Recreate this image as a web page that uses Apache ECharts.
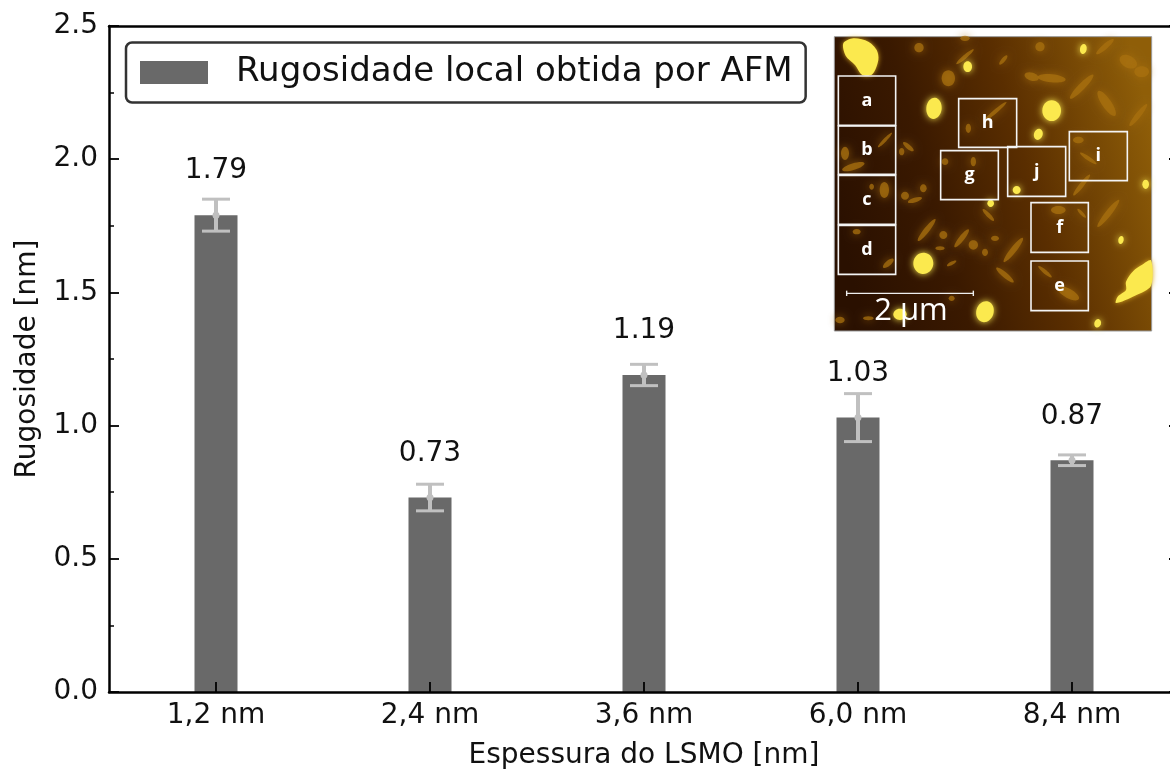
<!DOCTYPE html>
<html><head><meta charset="utf-8">
<style>html,body{margin:0;padding:0;background:#fff;overflow:hidden}#c{width:1170px;height:769px}</style>
<script src="https://cdn.jsdelivr.net/npm/echarts@6/dist/echarts.min.js"></script>
</head><body><div id="c"></div>
<script>
const categories = ['1,2 nm','2,4 nm','3,6 nm','6,0 nm','8,4 nm'];
const values = [1.79,0.73,1.19,1.03,0.87];
const errors = [0.06,0.05,0.04,0.09,0.02];
const yTicksMax = 2.5;
const seriesName = 'Rugosidade local obtida por AFM';
const FONT = '"DejaVu Sans"';

// Inset AFM micrograph, decorative: coordinates in inset-local units
const brightSpots = [[327,250,23,32,0.1],[680,257,28,31,0],[295,715,30,32,0.1],[480,860,26,32,0.3],[225,868,20,17,0],[428,125,13,16,0],[775,72,10,15,0.2],[640,328,13,17,0.3],[962,478,10,14,0],[888,645,8,12,0.2],[818,895,10,13,0.3],[497,535,10,11,0],[575,495,12,12,0]];
const midSpots = [[370,160,20,24,0],[282,68,14,14,0],[420,40,14,8,0],[645,65,14,14,0.5],[535,105,6,18,0.7],[420,95,34,6,-0.7],[620,155,22,12,0.3],[680,160,42,12,0.1],[770,185,50,10,-0.8],[840,65,34,8,-0.7],[845,235,14,45,-0.6],[940,270,42,8,-0.9],[250,365,20,7,0.7],[180,345,30,5,-0.8],[60,385,12,20,0],[85,425,35,10,-0.3],[230,380,8,11,0],[445,410,8,14,0],[430,310,8,14,0],[510,260,45,6,-0.7],[240,512,12,12,0],[295,490,10,12,0],[270,525,22,7,-0.3],[178,495,14,24,0],[140,485,7,9,0],[360,410,10,10,0],[305,615,42,8,-0.9],[355,630,12,12,0],[345,670,14,6,0],[445,660,14,14,0],[410,640,34,8,-0.9],[480,682,9,11,0],[510,640,12,8,0],[490,570,24,6,0.8],[565,675,46,9,-0.9],[540,750,34,8,0.7],[850,565,52,9,-0.9],[700,555,22,12,0],[770,565,18,5,0.8],[770,480,40,7,-0.9],[760,345,16,10,0],[790,400,30,6,0.6],[660,740,26,6,0.7],[730,805,36,14,0.5],[95,620,12,8,0],[190,715,20,8,-0.7],[380,715,16,5,-0.5],[45,885,14,10,0],[130,880,16,6,0],[380,820,9,8,0],[910,110,28,18,0.5],[950,140,22,16,0]];
const mainBlob = [[55,55],[85,40],[130,50],[155,75],[160,105],[142,148],[112,150],[90,120],[62,92]];
const edgeBlob = [[903,770],[925,738],[950,720],[978,706],[978,782],[930,812],[873,834],[878,815],[903,795]];
const boxes = [['a',40,153,212,301],['b',40,303,212,448],['c',40,451,212,598],['d',40,601,212,748],['h',401,221,575,367],['g',347,377,520,524],['j',548,365,722,514],['i',733,320,907,467],['f',618,533,790,682],['e',618,708,790,857]];

const k = 1/3, ox = 825, oy = 25;
const X = v => ox + v*k, Y = v => oy + v*k;
const ell = (s,fill,blur,op) => ({type:'ellipse',x:X(s[0]),y:Y(s[1]),rotation:-(s[4]||0),
  shape:{cx:0,cy:0,rx:s[2]*k,ry:s[3]*k},style:{fill,opacity:op,shadowBlur:blur,shadowColor:fill},silent:true,z:20});
const inset = [];
inset.push({type:'rect',shape:{x:X(28),y:Y(35),width:952*k,height:883*k},z:20,silent:true,
  style:{stroke:'#9a9a9a',lineWidth:1,fill:{type:'linear',x:0,y:0.6,x2:1,y2:0.3,colorStops:[
    {offset:0,color:'#2a1000'},{offset:0.3,color:'#3a1900'},{offset:0.6,color:'#5a2e00'},{offset:1,color:'#8f5e08'}]}}});
midSpots.forEach(s=>inset.push(ell(s,'#a8700f',9,0.75)));
brightSpots.forEach(s=>inset.push(ell(s,'#fbe94e',7,1)));
[mainBlob,edgeBlob].forEach(p=>inset.push({type:'polygon',z:20,silent:true,shape:{points:p.map(q=>[X(q[0]),Y(q[1])]),smooth:0.3},style:{fill:'#fbe94e',shadowBlur:5,shadowColor:'#d8a820'}}));
boxes.forEach(b=>{
  inset.push({type:'rect',z:21,silent:true,shape:{x:X(b[1]),y:Y(b[2]),width:(b[3]-b[1])*k,height:(b[4]-b[2])*k},style:{fill:'none',stroke:'#f4f4f4',lineWidth:1.6}});
  inset.push({type:'text',z:21,silent:true,x:X((b[1]+b[3])/2),y:Y((b[2]+b[4])/2),style:{text:b[0],fill:'#fff',font:'bold 18px "Open Sans"',align:'center',verticalAlign:'middle'}});
});
inset.push({type:'line',z:21,silent:true,shape:{x1:X(65),y1:Y(805),x2:X(445),y2:Y(805)},style:{stroke:'#eee',lineWidth:1.4}});
[65,445].forEach(v=>inset.push({type:'line',z:21,silent:true,shape:{x1:X(v),y1:Y(797),x2:X(v),y2:Y(813)},style:{stroke:'#eee',lineWidth:1.4}}));
inset.push({type:'text',z:21,silent:true,x:X(258),y:Y(858),style:{text:'2 µm',fill:'#fff',font:'31px "Open Sans"',align:'center',verticalAlign:'middle'}});

const chart = echarts.init(document.getElementById('c'),null,{renderer:'canvas'});
const axisLine = {show:true,onZero:false,lineStyle:{color:'#000',width:2.5}};
chart.setOption({
  animation:false,
  backgroundColor:'#fff',
  textStyle:{fontFamily:FONT},
  legend:{left:126,top:42.5,orient:'horizontal',itemWidth:68,itemHeight:23,itemGap:0,
    padding:[13,13,13,14],borderColor:'#333',borderWidth:2.5,borderRadius:6,backgroundColor:'#fff',
    icon:'rect',selectedMode:false,data:[seriesName],
    textStyle:{fontFamily:FONT,fontSize:34,color:'#111',padding:[0,0,0,23]}},
  grid:{left:109,top:26,width:1070,height:666,containLabel:false,outerBoundsMode:'none'},
  xAxis:[
    {type:'category',data:categories,position:'bottom',z:10,axisLine,
     axisTick:{show:true,inside:true,length:10,alignWithLabel:true,lineStyle:{color:'#000',width:1.8}},
     axisLabel:{fontFamily:FONT,fontSize:28,color:'#111',margin:10,interval:0},
     name:'Espessura do LSMO [nm]',nameLocation:'middle',nameGap:50,
     nameTextStyle:{fontFamily:FONT,fontSize:28,color:'#111'}},
    {type:'category',data:categories,position:'top',z:10,axisLine,axisTick:{show:false},axisLabel:{show:false}}
  ],
  yAxis:[
    {type:'value',min:0,max:yTicksMax,interval:0.5,position:'left',z:10,axisLine,splitLine:{show:false},
     axisTick:{show:true,inside:true,length:10,lineStyle:{color:'#000',width:1.8}},
     minorTick:{show:true,splitNumber:2,length:5,lineStyle:{color:'#000',width:1.5}},
     axisLabel:{fontFamily:FONT,fontSize:28,color:'#111',margin:11,formatter:v=>v.toFixed(1)},
     name:'Rugosidade [nm]',nameLocation:'middle',nameGap:67,
     nameTextStyle:{fontFamily:FONT,fontSize:28,color:'#111'}},
    {type:'value',min:0,max:yTicksMax,interval:0.5,position:'right',z:10,axisLine,splitLine:{show:false},
     axisTick:{show:true,inside:true,length:10,lineStyle:{color:'#000',width:1.8}},axisLabel:{show:false}}
  ],
  series:[
    {name:seriesName,type:'bar',data:values,barWidth:43,itemStyle:{color:'#696969'},
     label:{show:true,position:'top',distance:30,fontFamily:FONT,fontSize:28,color:'#111',formatter:p=>p.value.toFixed(2)}},
    {type:'custom',name:'err',silent:true,data:values.map((v,i)=>[i,v,errors[i]]),z:5,
     renderItem:(params,api)=>{
       const x=api.value(0),v=api.value(1),e=api.value(2);
       const hi=api.coord([x,v+e]),lo=api.coord([x,v-e]),mid=api.coord([x,v]);
       const st={stroke:'#c0c0c0',lineWidth:3,fill:'none'};
       const hw=14;
       return {type:'group',children:[
         {type:'line',shape:{x1:hi[0],y1:hi[1],x2:lo[0],y2:lo[1]},style:{stroke:'#c0c0c0',lineWidth:4}},
         {type:'line',shape:{x1:hi[0]-hw,y1:hi[1],x2:hi[0]+hw,y2:hi[1]},style:st},
         {type:'line',shape:{x1:lo[0]-hw,y1:lo[1],x2:lo[0]+hw,y2:lo[1]},style:st},
         {type:'circle',shape:{cx:mid[0],cy:mid[1],r:3.5},style:{fill:'#c0c0c0'}}
       ]};
     }}
  ],
  graphic:inset
});
</script></body></html>
